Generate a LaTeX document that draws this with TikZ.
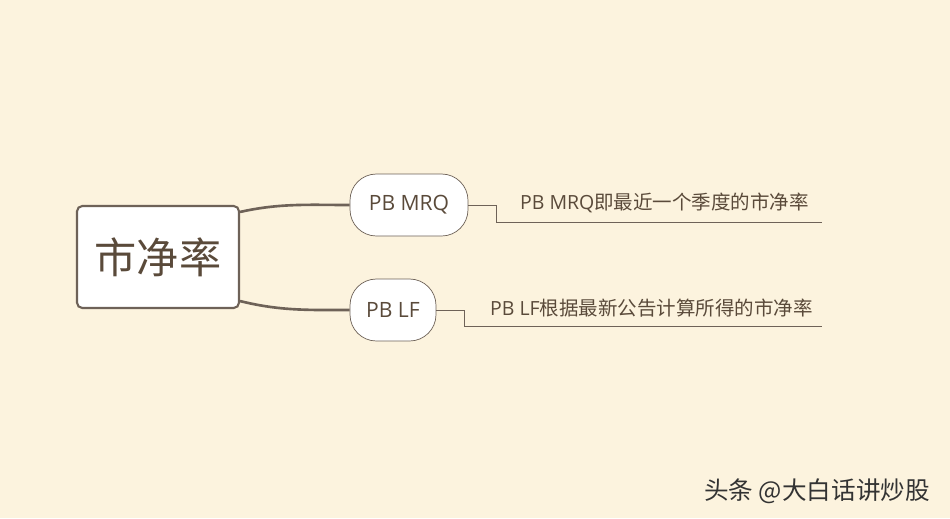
\documentclass[tikz,border=0pt]{standalone}
\usepackage{fontspec}
\setmainfont{Open Sans}
\newfontfamily\cjk{Noto Sans CJK SC}
\usepackage{xcolor}
\definecolor{paper}{HTML}{FCF3DE}
\definecolor{ink}{HTML}{5A4A3A}
\definecolor{wire}{HTML}{6E6258}
\begin{document}
\begin{tikzpicture}[x=0.02cm,y=-0.02cm,
  pill/.style={draw=wire,fill=white,rounded corners=15pt,minimum height=1.24cm,
    inner xsep=8pt,text=ink,font=\large},
  leaf/.style={text=ink,font=\cjk\fontsize{11.1}{13}\selectfont,anchor=south west,inner sep=1pt}]
\fill[paper] (0,0) rectangle (950,518);
\useasboundingbox (0,0) rectangle (950,518);
\path
  (158,257) node [draw=wire,line width=1.2pt,fill=white,rounded corners=3pt,inner sep=0pt,
    minimum width=3.24cm,minimum height=2.04cm,text=ink,font=\cjk\fontsize{24}{26}\selectfont] (root) {市净率}
  (409,205) node [pill,minimum width=2.36cm] (mrq) {PB MRQ}
  (393,310) node [pill,minimum width=1.72cm] (lf) {PB LF};
\coordinate (mrqend) at (822,222);
\coordinate (lfend) at (822,326);
\draw[wire,line width=1.5pt] (root.north east) ++(0,7) .. controls +(40,-9) and +(-40,0) .. (mrq.west);
\draw[wire,line width=1.5pt] (root.south east) ++(0,-8) .. controls +(40,10) and +(-40,0) .. (lf.west);
\draw[wire] (mrq.east) -- ++(28,0) |- (mrqend);
\draw[wire] (lf.east) -- ++(28,0) |- (lfend);
\node[leaf] (mrqtxt) at (518,215) {\fontspec{Open Sans}PB MRQ\cjk 即最近一个季度的市净率};
\node[leaf] (lftxt) at (488,319) {\fontspec{Open Sans}PB LF\cjk 根据最新公告计算所得的市净率};
\node[font=\cjk\fontsize{14}{16}\selectfont,anchor=east] (mark) at (936,491)
  {\textcolor{black!80}{头条 @大白话讲炒股}};
\end{tikzpicture}
\end{document}
